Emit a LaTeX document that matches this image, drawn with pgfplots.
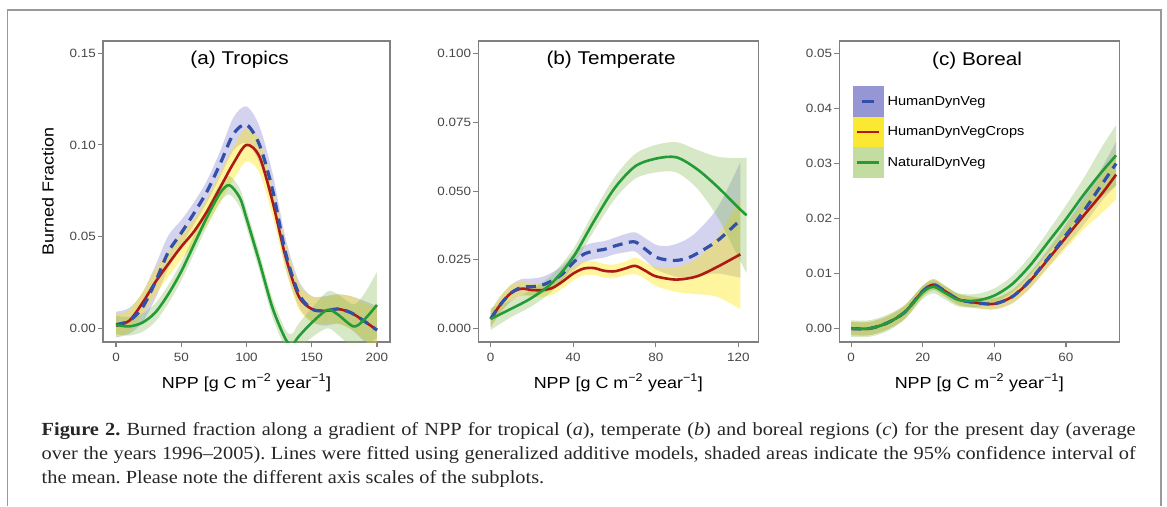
\documentclass[border=0pt]{standalone}
\usepackage{fontspec}
\setmainfont{Liberation Sans}[FakeStretch=1.12]
\newfontfamily\capfont{Liberation Serif}[FakeStretch=1.1]
\usepackage{pgfplots}
\usepackage{pgfplotstable}
\pgfplotsset{compat=1.18}
\usepgfplotslibrary{fillbetween}

\definecolor{bandBlue}{RGB}{120,120,205}
\definecolor{bandYellow}{RGB}{255,228,0}
\definecolor{bandGreen}{RGB}{130,185,80}
\definecolor{keyBlue}{RGB}{150,150,212}
\definecolor{keyYellow}{RGB}{250,232,50}
\definecolor{keyGreen}{RGB}{195,220,160}
\definecolor{lineBlue}{RGB}{50,80,170}
\definecolor{lineRed}{RGB}{175,25,20}
\definecolor{lineGreen}{RGB}{35,155,55}

% ---- (a) tropics: x, mean, half width of the 95% band
\pgfplotstableread{
x m h
0 0.002 0.007
10 0.004 0.007
20 0.011 0.008
30 0.025 0.009
40 0.0415 0.009
50 0.052 0.007
60 0.063 0.006
70 0.075 0.006
80 0.090 0.007
90 0.106 0.009
100 0.111 0.010
110 0.100 0.010
120 0.0754 0.009
130 0.041 0.008
140 0.019 0.007
150 0.0105 0.007
160 0.0095 0.008
170 0.0105 0.008
180 0.0085 0.009
190 0.004 0.011
200 -0.001 0.013
}\aBlue
\pgfplotstableread{
x m h
0 0.0015 0.006
10 0.004 0.006
20 0.0135 0.006
30 0.025 0.007
40 0.035 0.007
50 0.0445 0.007
60 0.053 0.007
70 0.064 0.007
80 0.077 0.008
90 0.090 0.009
100 0.100 0.009
110 0.0935 0.009
120 0.069 0.008
130 0.039 0.007
140 0.0175 0.007
150 0.0105 0.007
160 0.0095 0.007
170 0.0105 0.008
180 0.0085 0.009
190 0.004 0.010
200 -0.001 0.012
}\aRed
\pgfplotstableread{
x m h
0 0.0018 0.005
10 0.001 0.005
20 0.003 0.005
30 0.0085 0.005
40 0.0185 0.005
50 0.031 0.005
60 0.046 0.005
70 0.061 0.005
80 0.074 0.005
87 0.078 0.005
95 0.071 0.005
100 0.060 0.005
110 0.036 0.005
120 0.011 0.005
130 -0.006 0.005
135 -0.009 0.006
140 -0.0045 0.007
150 0.003 0.008
162 0.010 0.010
170 0.0075 0.011
182 0.001 0.012
190 0.0045 0.014
200 0.0127 0.018
}\aGreen

% ---- (b) temperate
\pgfplotstableread{
x m h
0 0.0035 0.003
5 0.009 0.003
10 0.013 0.003
15 0.015 0.003
20 0.0152 0.003
25 0.0158 0.003
30 0.0175 0.003
35 0.020 0.003
40 0.024 0.003
45 0.027 0.003
50 0.0282 0.003
55 0.0288 0.003
60 0.030 0.003
65 0.031 0.0033
70 0.0315 0.0035
75 0.0288 0.004
80 0.026 0.0045
85 0.025 0.005
90 0.0248 0.006
95 0.0255 0.007
100 0.0273 0.008
110 0.032 0.012
121 0.0395 0.021
}\bBlue
\pgfplotstableread{
x m h
0 0.0035 0.003
5 0.009 0.003
10 0.013 0.003
15 0.0145 0.0025
20 0.014 0.0025
25 0.014 0.0025
30 0.0148 0.0025
35 0.0172 0.0025
40 0.020 0.0025
45 0.0218 0.0025
50 0.022 0.0025
55 0.021 0.0025
60 0.0208 0.0025
65 0.0218 0.0025
70 0.0228 0.003
75 0.021 0.003
80 0.019 0.0035
90 0.0178 0.0045
100 0.019 0.0065
110 0.0225 0.011
121 0.027 0.020
}\bRed
\pgfplotstableread{
x m h
0 0.0035 0.004
10 0.0072 0.003
20 0.0112 0.003
30 0.0168 0.003
40 0.026 0.003
50 0.039 0.0035
60 0.051 0.004
70 0.059 0.0045
80 0.0618 0.005
90 0.0623 0.0055
100 0.058 0.007
110 0.0515 0.011
120 0.044 0.018
124 0.0412 0.021
}\bGreen

% ---- (c) boreal
\pgfplotstableread{
x m h
0 0.0 0.0012
5 0.0 0.0012
10 0.001 0.0012
15 0.003 0.0012
20 0.0068 0.001
23 0.008 0.001
26 0.0069 0.001
30 0.0053 0.001
35 0.0047 0.001
40 0.0045 0.001
45 0.0058 0.0012
50 0.0088 0.0014
55 0.0128 0.0016
60 0.017 0.002
65 0.0214 0.0025
70 0.0262 0.003
74 0.030 0.004
}\cBlue
\pgfplotstableread{
x m h
0 0.0 0.0012
5 0.0 0.0012
10 0.001 0.0012
15 0.003 0.0012
20 0.0068 0.001
23 0.008 0.001
26 0.0069 0.001
30 0.0053 0.001
35 0.0047 0.001
40 0.0045 0.001
45 0.0058 0.0012
50 0.0087 0.0014
55 0.0126 0.0016
60 0.0166 0.002
65 0.0206 0.0025
70 0.0245 0.0035
74 0.028 0.0045
}\cRed
\pgfplotstableread{
x m h
0 0.0 0.0015
5 0.0 0.0015
10 0.001 0.0015
15 0.003 0.0013
20 0.0066 0.0012
23 0.0076 0.0012
26 0.0066 0.0012
30 0.0052 0.0012
35 0.0051 0.0012
40 0.006 0.0013
45 0.0081 0.0015
50 0.0115 0.0017
55 0.0157 0.002
60 0.0199 0.0025
65 0.0244 0.003
70 0.0285 0.0045
74 0.0315 0.0055
}\cGreen

\pgfplotsset{
  panel/.style={
    scale only axis, width=280pt, height=301pt, anchor=south west,
    scaled x ticks=false, scaled y ticks=false,
    axis line style={black!50, line width=1.1pt},
    tick align=outside, tick pos=left, major tick length=5pt,
    tick style={black!50, line width=1.1pt},
    tick label style={font=\fontsize{12}{12}\selectfont, text=black!72, inner sep=2pt},
    xticklabel style={yshift=-4pt},
    every axis x label/.style={at={(axis description cs:0.5,0)}, anchor=base,
      yshift=-46pt, font=\fontsize{16}{16}\selectfont},
    xlabel={NPP [g C m\textsuperscript{−2} year\textsuperscript{−1}]},
  },
  band/.style={draw=none, smooth, forget plot},
  lBlue/.style={draw=lineBlue, line width=3.2pt, smooth, dash pattern=on 10pt off 6.5pt},
  lRed/.style={draw=lineRed, line width=2.6pt, smooth},
  lGreen/.style={draw=lineGreen, line width=2.6pt, smooth},
}
\tikzset{ptitle/.style={anchor=base, yshift=-24pt, font=\fontsize{18.5}{18.5}\selectfont}}

% draws the band of one series: #1 table, #2 name, #3 colour, #4 opacity
\newcommand{\ciband}[4]{%
  \addplot[band, name path=#2hi] table[x=x, y expr=\thisrow{m}+\thisrow{h}] {#1};
  \addplot[band, name path=#2lo] table[x=x, y expr=\thisrow{m}-\thisrow{h}] {#1};
  \addplot[fill=#3, fill opacity=#4, draw=none, forget plot] fill between[of=#2hi and #2lo];
}

\begin{document}
\frenchspacing
\begin{tikzpicture}
\path (0,0) rectangle (1167pt,506pt);
\draw[black!40, line width=1.5pt] (7.5pt,0pt) -- (7.5pt,496pt) -- (1161pt,496pt) -- (1161pt,0pt);

% (a)
\begin{axis}[panel, at={(103pt,164pt)}, width=287pt,
  xmin=-10, xmax=210, ymin=-0.0075, ymax=0.1567,
  xtick={0,50,100,150,200}, xticklabels={0,50,100,150,200},
  ytick={0,0.05,0.1,0.15}, yticklabels={0.00,0.05,0.10,0.15},
  every axis y label/.style={at={(axis description cs:-0.1916,0.5)}, rotate=90,
    anchor=center, font=\fontsize{16}{16}\selectfont},
  ylabel={Burned Fraction}]
\ciband{\aBlue}{ab}{bandBlue}{0.33}
\ciband{\aRed}{ar}{bandYellow}{0.38}
\ciband{\aGreen}{ag}{bandGreen}{0.33}
\addplot[lRed] table[x=x, y=m] {\aRed};
\addplot[lBlue] table[x=x, y=m] {\aBlue};
\addplot[lGreen] table[x=x, y=m] {\aGreen};
\node[ptitle] at (rel axis cs:0.476,1) {(a) Tropics};
\end{axis}

% (b)
\begin{axis}[panel, at={(478.3pt,164pt)},
  xmin=-6, xmax=129.7, ymin=-0.0049, ymax=0.1046,
  xtick={0,40,80,120}, xticklabels={0,40,80,120},
  ytick={0,0.025,0.05,0.075,0.1}, yticklabels={0.000,0.025,0.050,0.075,0.100}]
\ciband{\bBlue}{bb}{bandBlue}{0.33}
\ciband{\bRed}{br}{bandYellow}{0.38}
\ciband{\bGreen}{bg}{bandGreen}{0.33}
\addplot[lRed] table[x=x, y=m] {\bRed};
\addplot[lBlue] table[x=x, y=m] {\bBlue};
\addplot[lGreen] table[x=x, y=m] {\bGreen};
\node[ptitle] at (rel axis cs:0.474,1) {(b) Temperate};
\end{axis}

% (c)
\begin{axis}[panel, at={(839.3pt,164pt)},
  xmin=-3.3, xmax=74.9, ymin=-0.00244, ymax=0.0523,
  xtick={0,20,40,60}, xticklabels={0,20,40,60},
  ytick={0,0.01,0.02,0.03,0.04,0.05}, yticklabels={0.00,0.01,0.02,0.03,0.04,0.05},
  legend style={at={(0.049,0.850)}, anchor=north west, draw=none, fill=none,
    inner sep=0pt, row sep=0pt, column sep=4pt,
    font=\fontsize{13}{13}\selectfont, cells={anchor=west}, nodes={inner sep=0pt}}]
\ciband{\cBlue}{cb}{bandBlue}{0.33}
\ciband{\cRed}{cr}{bandYellow}{0.38}
\ciband{\cGreen}{cg}{bandGreen}{0.33}
\addplot[lRed, forget plot] table[x=x, y=m] {\cRed};
\addplot[lBlue, forget plot] table[x=x, y=m] {\cBlue};
\addplot[lGreen, forget plot] table[x=x, y=m] {\cGreen};
\addlegendimage{legend image code/.code={
  \fill[keyBlue] (0pt,-15pt) rectangle (30pt,15pt);
  \draw[lineBlue, line width=2.8pt] (9pt,0pt) -- (21pt,0pt);}}
\addlegendentry{HumanDynVeg}
\addlegendimage{legend image code/.code={
  \fill[keyYellow] (0pt,-15pt) rectangle (30pt,15pt);
  \draw[lineRed, line width=2.8pt] (4pt,0pt) -- (26pt,0pt);}}
\addlegendentry{HumanDynVegCrops}
\addlegendimage{legend image code/.code={
  \fill[keyGreen] (0pt,-15pt) rectangle (30pt,15pt);
  \draw[lineGreen, line width=2.8pt] (4pt,0pt) -- (26pt,0pt);}}
\addlegendentry{NaturalDynVeg}
\node[ptitle] at (rel axis cs:0.492,1) {(c) Boreal};
\end{axis}

% caption
\node[anchor=north west, inner sep=0pt, text width=1094pt, align=justify,
  font=\capfont\fontsize{18.5}{23.7}\selectfont, text=black!85] at (41.5pt,83.5pt)
  {\textbf{Figure 2.} Burned fraction along a gradient of NPP for tropical (\textit{a}), temperate (\textit{b}) and boreal regions (\textit{c}) for the present day (average\linebreak
  over the years 1996–2005). Lines were fitted using generalized additive models, shaded areas indicate the 95\% confidence interval of\linebreak
  the mean. Please note the different axis scales of the subplots.};
\end{tikzpicture}
\end{document}
